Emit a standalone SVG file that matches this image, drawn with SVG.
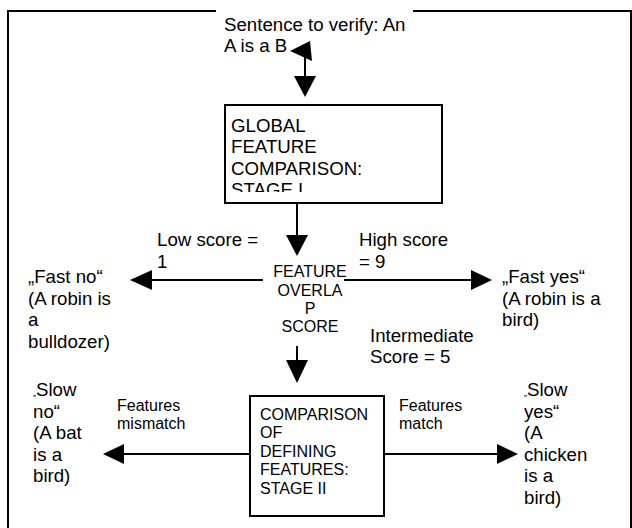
<svg xmlns="http://www.w3.org/2000/svg" width="632" height="528" viewBox="0 0 632 528">
<style>
text{font-family:"Liberation Sans",Arial,sans-serif;fill:#000}
.l{font-size:18.67px}
.s{font-size:16px}
.c{text-anchor:middle}
.ln{stroke:#000;stroke-width:2;fill:none}
.box{fill:#fff;stroke:#000;stroke-width:2}
.ah{fill:#000}
</style>
<defs>
<clipPath id="clip1"><rect x="225" y="106" width="216" height="86"/></clipPath>
</defs>
<rect width="632" height="528" fill="#fff"/>
<g id="frame">
<path class="ln" d="M8,540 V11 H631 V540"/>
</g>
<g id="connectors">
<line class="ln" x1="305" y1="55" x2="305" y2="77"/>
<polygon class="ah" points="290,51 310,41 312,61"/>
<polygon class="ah" points="294,76 316,76 305,97"/>
<line class="ln" x1="297" y1="203" x2="297" y2="236"/>
<polygon class="ah" points="286,235 308,235 297,256"/>
<line class="ln" x1="150" y1="280" x2="474" y2="280"/>
<polygon class="ah" points="130,280 152,270 152,290"/>
<polygon class="ah" points="492,280 471,270 471,290"/>
<line class="ln" x1="297" y1="340" x2="297" y2="361"/>
<polygon class="ah" points="286,360 308,360 297,383"/>
<line class="ln" x1="121" y1="454" x2="500" y2="454"/>
<polygon class="ah" points="103,454 124,444 124,464"/>
<polygon class="ah" points="518,454 497,444 497,464"/>
</g>
<g id="sentence">
<rect x="216" y="8" width="197" height="6" fill="#fff"/>
<text class="l" x="224" y="31">Sentence to verify: An</text>
<text class="l" x="224" y="52">A is a B</text>
</g>
<g id="stage1">
<rect class="box" x="225" y="105" width="217" height="98"/>
<g clip-path="url(#clip1)">
<text class="l" x="231" y="131.5">GLOBAL</text>
<text class="l" x="231" y="153">FEATURE</text>
<text class="l" x="231" y="174.5">COMPARISON:</text>
<text class="l" x="231" y="196">STAGE I</text>
</g>
</g>
<g id="overlap">
<rect x="263" y="262" width="81" height="84" fill="#fff"/>
<text class="s c" x="310" y="277">FEATURE</text>
<text class="s c" x="310" y="295.5">OVERLA</text>
<text class="s c" x="310" y="314">P</text>
<text class="s c" x="310" y="332">SCORE</text>
</g>
<g id="low">
<text class="l" x="157" y="246">Low score =</text>
<text class="l" x="157" y="267.5">1</text>
</g>
<g id="high">
<text class="l" x="359" y="246">High score</text>
<text class="l" x="359" y="267.5">= 9</text>
</g>
<g id="fastno">
<text class="l" x="28" y="283">„Fast no“</text>
<text class="l" x="28" y="304.5">(A robin is</text>
<text class="l" x="28" y="326">a</text>
<text class="l" x="28" y="347.5">bulldozer)</text>
</g>
<g id="fastyes">
<text class="l" x="502" y="283">„Fast yes“</text>
<text class="l" x="502" y="304.5">(A robin is a</text>
<text class="l" x="502" y="326">bird)</text>
</g>
<g id="intermediate">
<text class="l" x="370" y="341.5">Intermediate</text>
<text class="l" x="370" y="363">Score = 5</text>
</g>
<g id="stage2">
<rect class="box" x="250" y="396" width="134" height="120"/>
<text class="s" x="260" y="420">COMPARISON</text>
<text class="s" x="260" y="438.4">OF</text>
<text class="s" x="260" y="456.8">DEFINING</text>
<text class="s" x="260" y="475.2">FEATURES:</text>
<text class="s" x="260" y="493.6">STAGE II</text>
</g>
<g id="mismatch">
<text class="s" x="117" y="411">Features</text>
<text class="s" x="117" y="429.4">mismatch</text>
</g>
<g id="match">
<text class="s" x="399" y="411">Features</text>
<text class="s" x="399" y="429.4">match</text>
</g>
<g id="slowno">
<text class="l" x="33" y="396"><tspan font-size="9">„</tspan>Slow</text>
<text class="l" x="33" y="417.5">no“</text>
<text class="l" x="33" y="439">(A bat</text>
<text class="l" x="33" y="460.5">is a</text>
<text class="l" x="33" y="482">bird)</text>
</g>
<g id="slowyes">
<text class="l" x="524" y="396"><tspan font-size="9">„</tspan>Slow</text>
<text class="l" x="524" y="417.5">yes“</text>
<text class="l" x="524" y="439">(A</text>
<text class="l" x="524" y="460.5">chicken</text>
<text class="l" x="524" y="482">is a</text>
<text class="l" x="524" y="503.5">bird)</text>
</g>
</svg>
